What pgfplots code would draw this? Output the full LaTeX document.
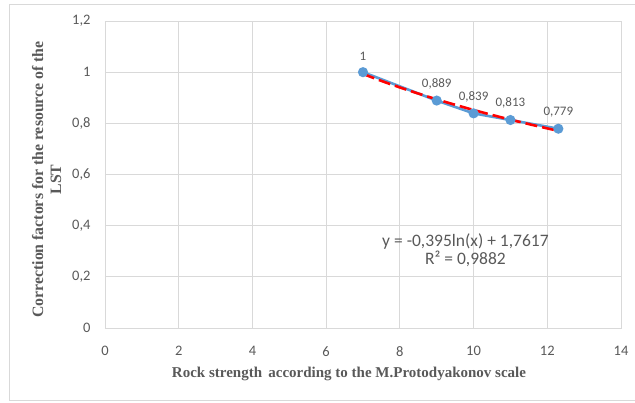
\documentclass[border=0pt]{standalone}
\usepackage{pgfplots}
\pgfplotsset{compat=1.18}
\usepackage{fontspec}
\setmainfont{Carlito}
\newfontfamily\tnr{Liberation Serif}
\definecolor{gridc}{HTML}{D9D9D9}
\definecolor{txtc}{HTML}{595959}
\definecolor{bluec}{HTML}{5B9BD5}
\begin{document}
\begin{tikzpicture}[x=1pt,y=1pt]
\path[use as bounding box] (-105,-74) rectangle (530,328);
\draw[gridc, line width=0.8pt] (-96,-72) rectangle (532,324);
\begin{axis}[
  at={(0,0)}, anchor=origin,
  scale only axis, width=516pt, height=307pt,
  xmin=0, xmax=14, ymin=0, ymax=1.2,
  xtick={0,2,...,14}, ytick={0,0.2,...,1.2},
  grid=major, major grid style={gridc, line width=0.8pt},
  axis line style={gridc, line width=0.8pt},
  tick style={draw=none},
  /pgf/number format/assume math mode=true,
  /pgf/number format/use comma,
  ticklabel style={font=\fontsize{14.5}{16}\selectfont, text=txtc},
  xticklabel style={yshift=-15pt},
  yticklabel style={/pgf/number format/fixed, xshift=-11pt},
  xlabel={\tnr\bfseries Rock strength\, according to the M.Protodyakonov scale},
  ylabel={\tnr\bfseries\begin{tabular}{c}Correction factors for the resource of the\\[1pt]LST\end{tabular}},
  xlabel style={font=\fontsize{15}{17}\selectfont, text=txtc, yshift=-4pt, xshift=-14pt},
  ylabel style={font=\fontsize{15.8}{17}\selectfont, text=txtc, yshift=-1pt, xshift=-5pt},
  clip=false,
]
\addplot[bluec, line width=2.6pt, mark=*, mark size=3.7pt, mark options={fill=bluec, draw=bluec},
  nodes near coords, point meta=explicit symbolic,
  every node near coord/.style={font=\fontsize{13}{14}\selectfont, text=txtc, anchor=south, yshift=7pt}]
  coordinates {(7,1) [1] (9,0.889) [0,889] (10,0.839) [0,839] (11,0.813) [0,813] (12.3,0.779) [0,779]};
\addplot[red, line width=2.6pt, dash pattern=on 12pt off 5pt, smooth] coordinates {
 (7,0.9931) (7.5,0.9658) (8,0.9403) (8.5,0.9164) (9,0.8938) (9.5,0.8725) (10,0.8522)
 (10.5,0.8329) (11,0.8145) (11.5,0.7970) (12,0.7802) (12.35,0.7688)};
\node[font=\fontsize{17.5}{18}\selectfont, text=txtc, align=center] at (axis cs:9.78,0.305) {y = -0,395ln(x) + 1,7617\\R² = 0,9882};
\end{axis}
\end{tikzpicture}
\end{document}
